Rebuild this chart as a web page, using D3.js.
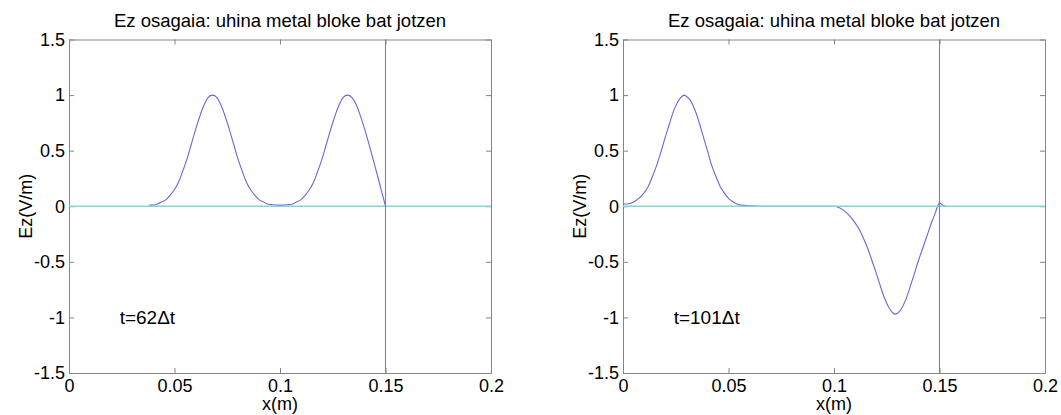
<!DOCTYPE html>
<html>
<head>
<meta charset="utf-8">
<script src="https://cdn.jsdelivr.net/npm/d3@7"></script>
<style>
  body { margin: 0; background: #fff; }
  svg { display: block; font-family: "Liberation Sans", Arial, sans-serif; }
  .tick line, .domain { stroke: #858585; }
  .tick text { fill: #000; }
</style>
</head>
<body>
<div id="app"></div>
<script>
// values
const title = 'Ez osagaia: uhina metal bloke bat jotzen'
const xTicks = [0, 0.05, 0.1, 0.15, 0.2]
const xTickLabels = ['0', '0.05', '0.1', '0.15', '0.2']
const yTicks = [-1.5, -1, -0.5, 0, 0.5, 1, 1.5]
const yTickLabels = ['-1.5', '-1', '-0.5', '0', '0.5', '1', '1.5']
const wallX = 0.15

// t = 62 dt
const x62 = [0.038, 0.040, 0.042, 0.044, 0.046, 0.048, 0.050, 0.052, 0.054, 0.056, 0.058, 0.060,
  0.062, 0.064, 0.066, 0.068, 0.070, 0.072, 0.074, 0.076, 0.078, 0.080, 0.082, 0.084, 0.086,
  0.088, 0.090, 0.092, 0.094, 0.096, 0.098, 0.100, 0.102, 0.104, 0.106, 0.108, 0.110, 0.112,
  0.114, 0.116, 0.118, 0.120, 0.122, 0.124, 0.126, 0.128, 0.130, 0.132, 0.134, 0.136, 0.138,
  0.140, 0.142, 0.144, 0.146, 0.148, 0.150]
const ez62 = [0.01, 0.01, 0.02, 0.04, 0.06, 0.10, 0.15, 0.22, 0.32, 0.43, 0.56, 0.69,
  0.81, 0.91, 0.98, 1.00, 0.98, 0.91, 0.81, 0.69, 0.56, 0.43, 0.32, 0.22, 0.15,
  0.10, 0.06, 0.04, 0.02, 0.015, 0.01, 0.01, 0.01, 0.015, 0.02, 0.04, 0.06, 0.10,
  0.15, 0.22, 0.32, 0.43, 0.56, 0.69, 0.81, 0.91, 0.98, 1.00, 0.98, 0.92, 0.82,
  0.70, 0.57, 0.43, 0.29, 0.145, 0.00]

// t = 101 dt
const x101 = [0.000, 0.002, 0.004, 0.006, 0.008, 0.010, 0.012, 0.014, 0.016, 0.018, 0.020,
  0.022, 0.024, 0.026, 0.028, 0.029, 0.030, 0.032, 0.034, 0.036, 0.038, 0.040, 0.042, 0.044,
  0.046, 0.048, 0.050, 0.052, 0.054, 0.056, 0.060, 0.064, 0.100, 0.102, 0.104, 0.106, 0.108,
  0.110, 0.112, 0.114, 0.116, 0.118, 0.120, 0.122, 0.124, 0.126, 0.128, 0.129, 0.130, 0.132,
  0.134, 0.136, 0.138, 0.140, 0.142, 0.144, 0.146, 0.148, 0.150, 0.1515, 0.153]
const ez101 = [0.02, 0.02, 0.03, 0.05, 0.08, 0.12, 0.18, 0.27, 0.37, 0.49, 0.62,
  0.74, 0.86, 0.94, 0.99, 1.00, 0.99, 0.95, 0.87, 0.76, 0.63, 0.50, 0.37, 0.27,
  0.18, 0.12, 0.07, 0.04, 0.02, 0.01, 0.005, 0.00, 0.00, -0.01, -0.03, -0.06, -0.10,
  -0.15, -0.21, -0.29, -0.38, -0.49, -0.60, -0.72, -0.83, -0.91, -0.96, -0.97, -0.965, -0.92,
  -0.84, -0.73, -0.61, -0.49, -0.38, -0.27, -0.16, -0.06, 0.03, 0.01, 0.00]

const panels = [
  { left: 69, xs: x62, ys: ez62, note: 't=62\u0394t' },
  { left: 623, xs: x101, ys: ez101, note: 't=101\u0394t' }
]

const W = 1061, H = 415
const plotW = 422, plotTop = 39.5, plotBottom = 373

const svg = d3.create('svg')
  .attr('width', W)
  .attr('height', H)
  .attr('viewBox', [0, 0, W, H])

panels.forEach(p => {
  const x = d3.scaleLinear().domain([0, 0.2]).range([p.left, p.left + plotW])
  const y = d3.scaleLinear().domain([-1.5, 1.5]).range([plotBottom, plotTop])
  const g = svg.append('g')

  // box + ticks (inward, all four sides)
  g.append('g')
    .attr('transform', `translate(0,${plotBottom})`)
    .call(d3.axisBottom(x).tickValues(xTicks).tickFormat((d, i) => xTickLabels[i])
      .tickSizeInner(-5).tickSizeOuter(0).tickPadding(6))
    .call(a => a.selectAll('text').attr('font-size', 18))
  g.append('g')
    .attr('transform', `translate(0,${plotTop})`)
    .call(d3.axisTop(x).tickValues(xTicks).tickFormat('').tickSizeInner(-5).tickSizeOuter(0))
  g.append('g')
    .attr('transform', `translate(${p.left},0)`)
    .call(d3.axisLeft(y).tickValues(yTicks).tickFormat((d, i) => yTickLabels[i])
      .tickSizeInner(-5).tickSizeOuter(0).tickPadding(4))
    .call(a => a.selectAll('text').attr('font-size', 18))
  g.append('g')
    .attr('transform', `translate(${p.left + plotW},0)`)
    .call(d3.axisRight(y).tickValues(yTicks).tickFormat('').tickSizeInner(-5).tickSizeOuter(0))
  g.selectAll('.domain').attr('stroke', '#858585')

  // field
  const line = d3.line().curve(d3.curveMonotoneX).x(d => x(d[0])).y(d => y(d[1]))
  g.append('path')
    .datum(d3.zip(p.xs, p.ys))
    .attr('d', line)
    .attr('fill', 'none')
    .attr('stroke', '#6868dc')
    .attr('stroke-width', 1.1)

  // zero line
  g.append('line')
    .attr('x1', x(0)).attr('x2', x(0.2))
    .attr('y1', y(0)).attr('y2', y(0))
    .attr('stroke', '#7fd8d2')
    .attr('stroke-width', 1.5)

  // metal wall
  g.append('line')
    .attr('x1', x(wallX)).attr('x2', x(wallX))
    .attr('y1', y(1.5)).attr('y2', y(-1.5))
    .attr('stroke', '#7676e6')
    .attr('stroke-width', 1.1)

  // text
  g.append('text')
    .attr('x', p.left + plotW / 2)
    .attr('y', 27)
    .attr('text-anchor', 'middle')
    .attr('font-size', 18.5)
    .text(title)
  g.append('text')
    .attr('x', p.left + plotW / 2)
    .attr('y', 410)
    .attr('text-anchor', 'middle')
    .attr('font-size', 18)
    .text('x(m)')
  g.append('text')
    .attr('transform', `translate(${p.left - 37},${y(0)}) rotate(-90)`)
    .attr('text-anchor', 'middle')
    .attr('font-size', 18)
    .text('Ez(V/m)')
  g.append('text')
    .attr('x', x(0.024))
    .attr('y', y(-1))
    .attr('dy', '0.35em')
    .attr('font-size', 19)
    .text(p.note)
})

d3.select('#app').append(() => svg.node())
</script>
</body>
</html>
